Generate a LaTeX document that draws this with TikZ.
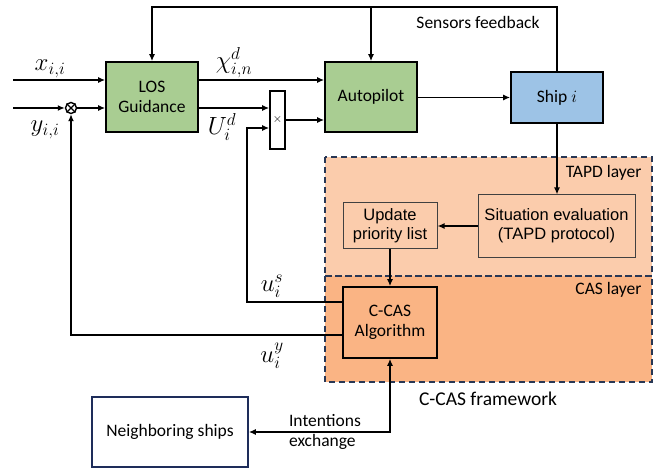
\documentclass[tikz,border=0pt]{standalone}
\usepackage{amsmath,amssymb}
\usepackage{fontspec}
\setmainfont{Carlito}
\newfontfamily\arialfont{Liberation Sans}
\usetikzlibrary{arrows.meta,calc}
\definecolor{losgreen}{RGB}{169,205,146}
\definecolor{shipblue}{RGB}{157,195,230}
\definecolor{tapdfill}{RGB}{251,204,172}
\definecolor{casfill}{RGB}{250,180,132}
\definecolor{dashnavy}{RGB}{40,55,85}
\definecolor{nbrnavy}{RGB}{30,45,90}

\begin{document}
\begin{tikzpicture}[x=1pt,y=-1pt,
    blockbox/.style={draw=black, line width=1.6pt, fill=losgreen, minimum width=92pt, minimum height=70pt,
        align=center, font=\fontsize{17.5}{20}\selectfont},
    layerbox/.style={draw=black!75, line width=1pt, fill=none, align=center, font=\arialfont\fontsize{16.5}{19}\selectfont},
    region/.style={draw=dashnavy, line width=1.6pt, dash pattern=on 6pt off 4pt},
    wire/.style={black, line width=1.4pt},
    arr/.style={wire, -{Latex[length=7pt,width=6pt]}},
    sig/.style={inner sep=0pt, font=\fontsize{23}{25}\selectfont},
    tag/.style={font=\fontsize{17.5}{20}\selectfont}]
        \useasboundingbox (0,0) rectangle (660,470);

        % layers
        \fill [tapdfill] (325,157) rectangle (652,276);
        \fill [casfill] (325,276) rectangle (652,382);
        \draw [region] (325,157) rectangle (652,276);
        \draw [region] (325,276) rectangle (652,382);
        \node [tag, anchor=east] (tapdlbl) at (645,173) {TAPD layer};
        \node [tag, anchor=east] (caslbl) at (645,290) {CAS layer};
        \node [font=\fontsize{19.5}{22}\selectfont] (frame) at (488,399) {C-CAS framework};

        % blocks
        \node [blockbox] (los) at (152,97) {LOS\\Guidance};
        \node [blockbox] (auto) at (371,97) {Autopilot};
        \node [blockbox, fill=shipblue, minimum height=51pt] (ship) at (557,97.5) {Ship $i$};
        \node [draw=black, line width=1.6pt, fill=white, minimum width=15pt, minimum height=58pt, inner sep=0pt,
            font=\fontsize{12}{12}\selectfont] (mux) at (277.5,120) {$\times$};
        \node [draw=black, line width=1.4pt, circle, inner sep=0pt, minimum size=11pt] (sum) at (71,108) {};
        \draw [line width=1.2pt] (sum.north west) -- (sum.south east) (sum.north east) -- (sum.south west);
        \node [layerbox, minimum width=157pt, minimum height=62pt] (sit) at (556.5,226)
            {Situation evaluation\\(TAPD protocol)};
        \node [layerbox, minimum width=94pt, minimum height=45pt] (upd) at (390,225.5)
            {Update\\priority list};
        \node [blockbox, fill=casfill, minimum width=94pt, minimum height=71pt] (ccas) at (390,322.5)
            {C-CAS\\Algorithm};
        \node [draw=nbrnavy, line width=1.6pt, minimum width=156pt, minimum height=70pt,
            font=\fontsize{17.5}{20}\selectfont] (nbr) at (170,432) {Neighboring ships};

        % helper points
        \coordinate (xin) at (13,80);
        \coordinate (yin) at (13,108);
        \coordinate (fb) at (557,7);
        \coordinate (us) at (247,302);
        \coordinate (muxin) at (247,128);
        \coordinate (uy) at (71,335);

        % signals
        \draw [arr] (xin) -- (xin -| los.west);
        \draw [arr] (yin) -- (sum.west);
        \draw [arr] (sum.east) -- (sum -| los.west);
        \draw [arr] (los.east |- xin) -- (auto.west |- xin);
        \draw [arr] (los.east |- sum) -- (mux.west |- sum);
        \draw [arr] (mux.east) -- (mux.east -| auto.west);
        \draw [arr] (auto.east |- ship.west) -- (ship.west);
        \draw [arr] (ship.north) -- (fb) -| (los.north);
        \draw [arr] (auto.north |- fb) -- (auto.north);
        \draw [arr] (ship.south) -- (ship.south |- sit.north);
        \draw [arr] (sit.west) -- (sit.west -| upd.east);
        \draw [arr] (upd.south) -- (ccas.north);
        \draw [arr] (ccas.west |- us) -- (us) -- (muxin) -- (muxin -| mux.west);
        \draw [arr] (ccas.west |- uy) -- (uy) -- (sum.south);
        \draw [wire, {Latex[length=7pt,width=6pt]}-{Latex[length=7pt,width=6pt]}] (nbr.east) -| (ccas.south);

        % labels
        \node [sig] (xlbl) at (50,69) {$x_{i,i}$};
        \node [sig] (ylbl) at (45,130) {$y_{i,i}$};
        \node [sig] (chilbl) at (234,63) {$\chi_{i,n}^{d}$};
        \node [sig] (ulbl) at (222,127) {$U_i^{d}$};
        \node [sig] (uslbl) at (272,286) {$u_i^{s}$};
        \node [sig] (uylbl) at (272,356) {$u_i^{y}$};
        \node [tag] (fblbl) at (478,22) {Sensors feedback};
        \node [tag, align=left] (intlbl) at (325,432) {Intentions\\exchange};
    \end{tikzpicture}
\end{document}
